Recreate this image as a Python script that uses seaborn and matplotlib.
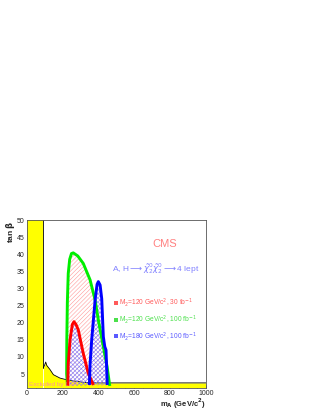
"""
CMS reach plot: A, H -> chi2 chi2 -> 4 leptons in the (m_A, tan beta) plane.
Run: python plot.py
"""

import numpy as np
import pandas as pd
import matplotlib
matplotlib.use("Agg")
import matplotlib.pyplot as plt
import seaborn as sns

# LEP excluded region (boundary curve)
lep_mA = [93, 100, 106, 112, 130, 149, 186, 224, 260, 300, 330, 400, 600, 800, 1000]
lep_tb = [6.8, 7.6, 8.5, 7.5, 6.3, 4.8, 3.8, 3.3, 3.0, 2.7, 2.5, 2.4, 2.4, 2.4, 2.4]
lep_wall = 93

# M2=120 GeV/c^2, 100 fb-1 (green)
green_mA = [228, 223, 224, 227, 232, 240, 250, 260, 285, 316, 354, 382, 400, 428, 449, 464]
green_tb = [1.5, 5, 15, 26, 34.4, 38.5, 40.2, 40.4, 39.5, 37.3, 32.5, 26.6, 20.8, 13, 7.1, 1.5]

# M2=120 GeV/c^2, 30 fb-1 (red)
red_mA = [229, 232, 242, 255, 264, 275, 288, 316, 344, 372]
red_tb = [1.5, 8, 15, 19.5, 20.3, 19.5, 17.9, 11, 5.2, 1.8]

# M2=180 GeV/c^2, 100 fb-1 (blue)
blue_mA = [350, 354, 363, 382, 393, 400, 410, 419, 428, 436, 443, 450]
blue_tb = [1.8, 8, 15, 26.6, 31.2, 32, 31, 27, 15.9, 13, 12, 1.8]

legend_labels = [
    r"M$_2$=120 GeV/c$^2$, 30 fb$^{-1}$",
    r"M$_2$=120 GeV/c$^2$, 100 fb$^{-1}$",
    r"M$_2$=180 GeV/c$^2$, 100 fb$^{-1}$",
]
legend_colors = ["#ff5a5a", "#4be04b", "#5a5aff"]
legend_tb = [25.7, 20.8, 16.0]


def main():
    sns.set_style("white")
    plt.rcParams["font.family"] = ["Liberation Sans", "DejaVu Sans"]
    plt.rcParams["hatch.linewidth"] = 0.35

    fig = plt.figure(figsize=(3.18, 4.12), dpi=100)
    ax = fig.add_axes([0.084, 0.059, 0.563, 0.407])

    ymin, ymax = 1, 50

    # yellow LEP exclusion
    ax.axvspan(0, lep_wall, color="#ffff00", zorder=1, lw=0)
    ax.fill_between(lep_mA, ymin, lep_tb, color="#ffff00", zorder=1, lw=0)
    lep = pd.DataFrame({"mA": lep_mA, "tb": lep_tb})
    sns.lineplot(data=lep, x="mA", y="tb", sort=False, color="black", lw=0.6, ax=ax, zorder=2)
    ax.plot([lep_wall, lep_wall], [lep_tb[0], ymax], color="black", lw=0.6, zorder=2)

    # hatched regions
    ax.fill(green_mA, green_tb, facecolor="none", edgecolor="#ff8c8c",
            hatch="////////", lw=0, zorder=3)
    ax.fill(red_mA, red_tb, facecolor="none", edgecolor="#7a7aff",
            hatch="xxxxxxxx", lw=0, zorder=3)
    ax.fill(blue_mA, blue_tb, facecolor="none", edgecolor="#7a7aff",
            hatch="xxxxxxxx", lw=0, zorder=3)

    curves = [
        (green_mA, green_tb, "#00ee00"),
        (red_mA, red_tb, "#ff0000"),
        (blue_mA, blue_tb, "#0000ff"),
    ]
    for xs, ys, c in curves:
        df = pd.DataFrame({"mA": xs, "tb": ys})
        sns.lineplot(data=df, x="mA", y="tb", sort=False, color=c, lw=2.1,
                     ax=ax, zorder=4, solid_capstyle="butt")

    ax.set_xlim(0, 1000)
    ax.set_ylim(ymin, ymax)
    ax.set_xticks(np.arange(0, 1001, 200))
    ax.set_xticks(np.arange(0, 1001, 50), minor=True)
    ax.set_yticks(np.arange(5, 51, 5))
    ax.tick_params(axis="both", which="major", labelsize=5, length=2.5, width=0.5,
                   direction="in", pad=1.5, bottom=True, left=True)
    ax.tick_params(axis="x", which="minor", length=1.3, width=0.4, direction="in", bottom=True)
    for s in ax.spines.values():
        s.set_linewidth(0.6)
        s.set_color("#555555")
    ax.set_xlabel("")
    ax.set_ylabel("")

    fig.text(0.647, 0.002, r"m$_{\mathbf{A}}$ (GeV/c$^{\mathbf{2}}$)", ha="right", va="bottom",
             fontsize=5.5, fontweight="bold")
    fig.text(0.012, 0.466, r"tan $\mathbf{\beta}$", ha="left", va="top", rotation=90,
             fontsize=6, fontweight="bold")

    ax.text(770, 43, "CMS", color="#ff8080", fontsize=8, ha="center", va="center", zorder=5)
    ax.text(475, 35.7,
            r"A, H$\longrightarrow\tilde{\chi}^0_2\tilde{\chi}^0_2\longrightarrow$4 lept",
            color="#8080ff", fontsize=6, ha="left", va="center", zorder=5)

    for lab, col, yy in zip(legend_labels, legend_colors, legend_tb):
        ax.scatter([500], [yy], marker="s", s=7, color=col, zorder=5, lw=0)
        ax.text(518, yy, lab, color=col, fontsize=4.8, ha="left", va="center", zorder=5)

    ax.text(12, 1.9, "Excluded by LEP", color="#ff90a0", fontsize=4.6, ha="left",
            va="center", zorder=5)

    fig.savefig("out.png", dpi=100)
    plt.close(fig)


if __name__ == "__main__":
    main()
